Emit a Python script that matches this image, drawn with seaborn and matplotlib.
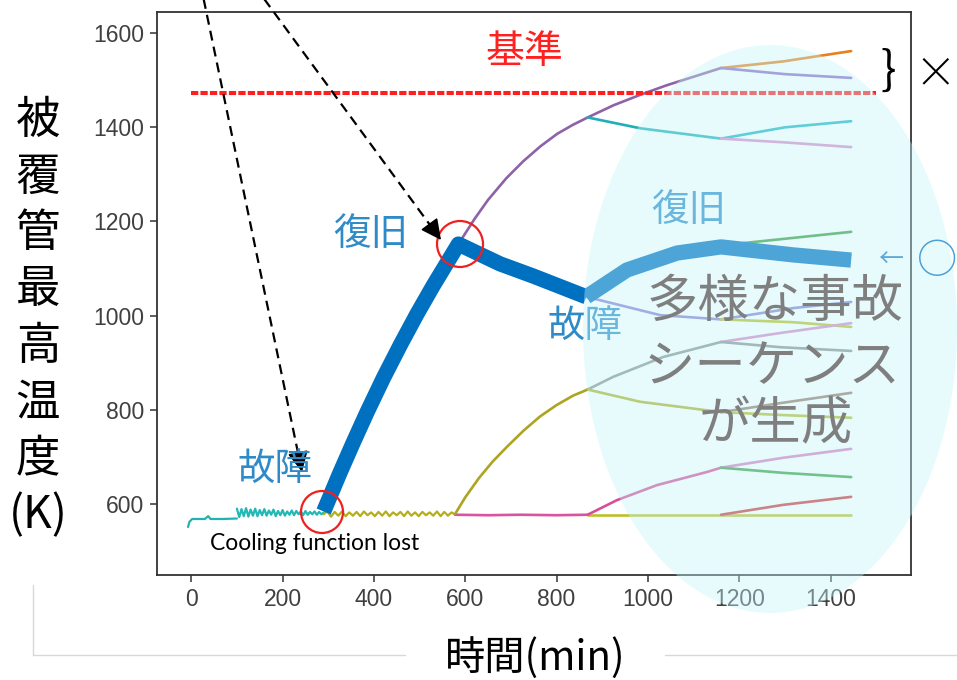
import matplotlib
matplotlib.use("Agg")
import matplotlib.pyplot as plt
from matplotlib.patches import Ellipse, FancyArrowPatch
from matplotlib.lines import Line2D
import seaborn as sns

# ---------------- data: time [min], peak cladding temperature [K] ----------------
# normal operation before the cooling function is lost
t_init = [-7, -4, 2, 30, 37, 42, 70, 100]
T_init = [551, 562, 568, 568, 574, 568, 568, 569]

t_osc1 = list(range(100, 295, 5))
T_osc1 = [590, 572, 589, 574, 591, 573, 588, 575, 590, 574,
          587, 576, 589, 575, 586, 577, 588, 574, 585, 576,
          587, 575, 584, 577, 586, 576, 585, 578, 584, 576,
          585, 577, 583, 578, 584, 577, 583, 578, 582]

t_osc2 = list(range(290, 580, 8))
T_osc2 = [578, 584, 573, 583, 575, 584, 574, 582, 575, 583,
          574, 584, 576, 582, 574, 583, 575, 584, 574, 582,
          576, 583, 574, 584, 575, 582, 574, 583, 576, 582,
          575, 584, 574, 583, 575, 582, 577]

# highlighted scenario (failure -> recovery -> failure -> recovery)
t_main1 = [290, 326, 355, 385, 421, 458, 494, 530, 560, 585, 676, 749, 865]
T_main1 = [584, 667, 731, 795, 868, 938, 1003, 1064, 1112, 1152, 1110, 1084, 1040]
t_main2 = [865, 954, 1064, 1160, 1318, 1445]
T_main2 = [1040, 1097, 1133, 1146, 1129, 1118]

# branches of the generated sequences
t_heat_a = [585, 620, 650, 690, 727, 765, 801, 835, 868, 925, 983, 1040, 1092, 1160]
T_heat_a = [1152, 1205, 1246, 1292, 1328, 1360, 1386, 1405, 1421, 1447, 1469, 1489, 1505, 1526]
t_heat_a_up = [1160, 1296, 1445]
T_heat_a_up = [1526, 1540, 1562]
t_heat_a_dn = [1160, 1300, 1445]
T_heat_a_dn = [1526, 1513, 1505]

t_rec_a = [868, 983, 1160]
T_rec_a = [1421, 1398, 1376]
t_rec_a_up = [1160, 1300, 1445]
T_rec_a_up = [1376, 1400, 1413]
t_rec_a_dn = [1160, 1300, 1445]
T_rec_a_dn = [1376, 1368, 1358]

t_main_up = [1160, 1208, 1445]
T_main_up = [1146, 1154, 1178]

t_rec_b = [865, 1027, 1160]
T_rec_b = [1040, 1001, 992]
t_rec_b_up = [1160, 1318, 1445]
T_rec_b_up = [992, 1016, 1029]
t_rec_b_dn = [1160, 1318, 1445]
T_rec_b_dn = [992, 986, 976]

t_heat_b = [578, 600, 630, 660, 692, 728, 764, 800, 836, 868]
T_heat_b = [579, 614, 655, 690, 722, 756, 786, 810, 830, 843]
t_heat_b2 = [868, 924, 1033, 1160]
T_heat_b2 = [843, 870, 912, 944]
t_heat_b2_up = [1160, 1289, 1445]
T_heat_b2_up = [944, 963, 984]
t_heat_b2_dn = [1160, 1289, 1445]
T_heat_b2_dn = [944, 933, 925]
t_rec_c = [868, 983, 1160]
T_rec_c = [843, 817, 795]
t_rec_c_up = [1160, 1289, 1445]
T_rec_c_up = [795, 814, 836]
t_rec_c_dn = [1160, 1289, 1445]
T_rec_c_dn = [795, 789, 783]

t_base_a = [578, 650, 720, 800, 868]
T_base_a = [577, 576, 577, 576, 577]
t_heat_c = [868, 932, 1020, 1130, 1160]
T_heat_c = [577, 608, 640, 668, 677]
t_heat_c_up = [1160, 1296, 1445]
T_heat_c_up = [677, 698, 717]
t_heat_c_dn = [1160, 1296, 1445]
T_heat_c_dn = [677, 666, 657]

t_base_b = [868, 1160, 1445]
T_base_b = [576, 576, 576]
t_heat_d = [1160, 1296, 1445]
T_heat_d = [577, 598, 615]

# acceptance limit
limit_t = [0, 1500]
limit_K = [1473, 1473]

x_ticks = [0, 200, 400, 600, 800, 1000, 1200, 1400]
y_ticks = [600, 800, 1000, 1200, 1400, 1600]

# ---------------- figure ----------------
sns.set_theme(style="ticks")
plt.rcParams["font.family"] = ["Noto Sans CJK JP", "DejaVu Sans"]

W, H = 957, 680
fig = plt.figure(figsize=(W / 100, H / 100), dpi=100)
fig.patch.set_facecolor("white")


def fx(px):
    return px / W


def fy(py):
    return 1 - py / H


ax = fig.add_axes([fx(157), fy(575), fx(911 - 157), (575 - 12) / H])
ax.set_facecolor("white")

thin = 1.9
series = [
    (t_init, T_init, "#22B2B0", 1.6),
    (t_osc1, T_osc1, "#22B8B6", 1.6),
    (t_osc2, T_osc2, "#B4AE1E", 1.6),
    (t_base_a, T_base_a, "#D9539E", thin),
    (t_base_b, T_base_b, "#BCC02A", thin),
    (t_heat_a, T_heat_a, "#8E62A6", thin),
    (t_heat_a_up, T_heat_a_up, "#E8801C", thin),
    (t_heat_a_dn, T_heat_a_dn, "#8D6CC4", thin),
    (t_rec_a, T_rec_a, "#1FAFB8", thin),
    (t_rec_a_up, T_rec_a_up, "#1FB3C2", thin),
    (t_rec_a_dn, T_rec_a_dn, "#D98AC8", thin),
    (t_main_up, T_main_up, "#3C9A3C", thin),
    (t_rec_b, T_rec_b, "#8A80D0", thin),
    (t_rec_b_up, T_rec_b_up, "#8A80D0", thin),
    (t_rec_b_dn, T_rec_b_dn, "#BCBD22", thin),
    (t_heat_b, T_heat_b, "#ACA522", thin),
    (t_heat_b2, T_heat_b2, "#8C948C", thin),
    (t_heat_b2_up, T_heat_b2_up, "#D986C4", thin),
    (t_heat_b2_dn, T_heat_b2_dn, "#8C908C", thin),
    (t_rec_c, T_rec_c, "#B2B02A", thin),
    (t_rec_c_up, T_rec_c_up, "#9A7A68", thin),
    (t_rec_c_dn, T_rec_c_dn, "#B8BA2A", thin),
    (t_heat_c, T_heat_c, "#D84E98", thin),
    (t_heat_c_up, T_heat_c_up, "#D77FC0", thin),
    (t_heat_c_dn, T_heat_c_dn, "#3DA046", thin),
    (t_heat_d, T_heat_d, "#D0383C", thin),
]
for t, T, c, lw in series:
    sns.lineplot(x=t, y=T, ax=ax, color=c, linewidth=lw, sort=False,
                 estimator=None, legend=False, zorder=2,
                 solid_joinstyle="round")

# acceptance limit line
sns.lineplot(x=limit_t, y=limit_K, ax=ax, color="#FF1F1F", linewidth=2.9,
             linestyle=(0, (1.8, 0.55)), sort=False, estimator=None,
             legend=False, zorder=3)

# highlighted scenario
for t, T in [(t_main1, T_main1), (t_main2, T_main2)]:
    sns.lineplot(x=t, y=T, ax=ax, color="#0070C0", linewidth=11,
                 sort=False, estimator=None, legend=False, zorder=4,
                 solid_capstyle="butt", solid_joinstyle="round")

ax.set_xlim(-75, 1576)
ax.set_ylim(449, 1645)
ax.set_xticks(x_ticks)
ax.set_yticks(y_ticks)
ax.set_xlabel("")
ax.set_ylabel("")
for s in ax.spines.values():
    s.set_color("#333333")
    s.set_linewidth(1.3)
    s.set_visible(True)
ax.tick_params(axis="both", direction="out", length=5, width=1.1,
               color="#333333", labelcolor="#404040", labelsize=16.5, pad=4)
for lbl in ax.get_xticklabels() + ax.get_yticklabels():
    lbl.set_fontfamily("Liberation Sans")

# ---------------- annotations ----------------
cjk = ["Noto Sans CJK JP", "DejaVu Sans"]
blue = "#2F8BC8"

fig.text(fx(524), fy(52), "基準", color="#FF2020", fontsize=28,
         family=cjk, ha="center", va="center", zorder=4)
fig.text(fx(275), fy(469), "故障", color=blue, fontsize=27,
         family=cjk, ha="center", va="center", zorder=4)
fig.text(fx(371), fy(235), "復旧", color=blue, fontsize=27,
         family=cjk, ha="center", va="center", zorder=4)
fig.text(fx(585), fy(326), "故障", color=blue, fontsize=27,
         family=cjk, ha="center", va="center", zorder=4)
fig.text(fx(689), fy(211), "復旧", color=blue, fontsize=27,
         family=cjk, ha="center", va="center", zorder=4)
fig.text(fx(315), fy(543), "Cooling function lost", color="black",
         fontsize=16.5, family=["Lato", "DejaVu Sans"], ha="center",
         va="center", zorder=4)

# red circles at the failure / recovery points
for cx, cy, r in [(322, 512, 21), (460, 244, 23)]:
    fig.add_artist(Ellipse((fx(cx), fy(cy)), 2 * r / W, 2 * r / H,
                           transform=fig.transFigure, fill=False,
                           edgecolor="#F02020", linewidth=1.6, zorder=4))

# dashed pointer arrows
for (x0, y0), (x1, y1) in [((203, -4), (302, 472)), ((262, -4), (441, 240))]:
    dx, dy = x1 - x0, y1 - y0
    d = (dx ** 2 + dy ** 2) ** 0.5
    xm, ym = x1 - dx / d * 14, y1 - dy / d * 14
    fig.add_artist(Line2D([fx(x0), fx(xm)], [fy(y0), fy(ym)],
                          transform=fig.transFigure, color="black",
                          linewidth=1.6, linestyle=(0, (4.5, 2.8)), zorder=4))
    fig.add_artist(FancyArrowPatch((fx(xm - dx / d * 2), fy(ym - dy / d * 2)),
                                   (fx(x1), fy(y1)),
                                   transform=fig.transFigure,
                                   arrowstyle="-|>,head_length=0.9,head_width=0.45",
                                   mutation_scale=14, color="black",
                                   linewidth=1.2, shrinkA=0, shrinkB=0, zorder=4))

# brace and cross for the scenarios above the limit
fig.text(fx(888), fy(72), "}", color="black", fontsize=33,
         family=cjk, ha="center", va="center", zorder=4)
fig.text(fx(935), fy(75), "×", color="black", fontsize=30,
         family=cjk, ha="center", va="center", zorder=4, fontweight="light")

# axis titles
ylab_chars = ["被", "覆", "管", "最", "高", "温", "度", "(K)"]
for i, ch in enumerate(ylab_chars):
    fig.text(fx(38), fy(120 + i * 56.5), ch, color="black", fontsize=32,
             family=cjk, ha="center", va="center", zorder=4)
fig.text(fx(535), fy(658), "時間(min)", color="black", fontsize=29,
         family=cjk, ha="center", va="center", zorder=4)

# frame lines of the panel
for xs, ys in [([33, 33], [585, 655]), ([33, 405], [655, 655]),
               ([665, 957], [655, 655])]:
    fig.add_artist(Line2D([fx(v) for v in xs], [fy(v) for v in ys],
                          transform=fig.transFigure, color="#D8D8D8",
                          linewidth=1.0, zorder=1))

# shaded region of generated sequences
fig.add_artist(Ellipse((fx(770), fy(329)), 374 / W, 568 / H,
                       transform=fig.transFigure, facecolor="#C3F7FC",
                       edgecolor="none", alpha=0.4, zorder=5))

gray = "#7F7F7F"
for txt, cx, cy in [("多様な事故", 775, 302), ("シーケンス", 772, 367),
                    ("が生成", 776, 425)]:
    fig.text(fx(cx), fy(cy), txt, color=gray, fontsize=37, family=cjk,
             style="italic", ha="center", va="center", zorder=6)

fig.text(fx(891), fy(260), "←", color="#5AAAD8", fontsize=18,
         family=cjk, ha="center", va="center", zorder=6)
fig.text(fx(937), fy(262), "○", color="#4A9FD5", fontsize=29,
         family=cjk, ha="center", va="center", zorder=6)

fig.savefig("out.png", dpi=100, facecolor="white")
